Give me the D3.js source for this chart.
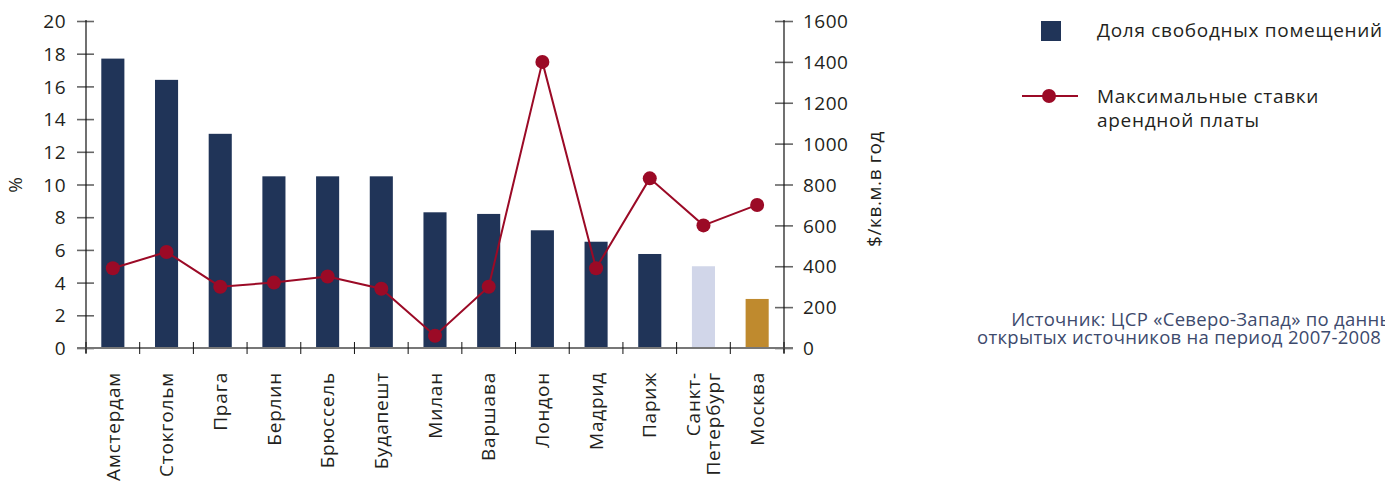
<!DOCTYPE html>
<html>
<head>
<meta charset="utf-8">
<script src="https://cdn.jsdelivr.net/npm/d3@7"></script>
<style>
  html, body { margin: 0; padding: 0; background: #fff; }
  svg { display: block; }
  text { font-family: "Open Sans", "Noto Sans", sans-serif; fill: #231f20; }
</style>
</head>
<body>
<svg id="chart" width="1385" height="484"></svg>
<script>
// Office market: vacancy share (bars, left axis) and peak rents (line, right axis)
const cities = ["Амстердам", "Стокгольм", "Прага", "Берлин", "Брюссель", "Будапешт",
  "Милан", "Варшава", "Лондон", "Мадрид", "Париж", "Санкт-Петербург", "Москва"];
const cityLines = [["Амстердам"], ["Стокгольм"], ["Прага"], ["Берлин"], ["Брюссель"], ["Будапешт"],
  ["Милан"], ["Варшава"], ["Лондон"], ["Мадрид"], ["Париж"], ["Санкт-", "Петербург"], ["Москва"]];
const vacancy = [17.7, 16.4, 13.1, 10.5, 10.5, 10.5, 8.3, 8.2, 7.2, 6.5, 5.75, 5.0, 3.0];
const rent = [390, 470, 300, 320, 350, 290, 60, 300, 1400, 390, 830, 600, 700];
const leftTicks = [0, 2, 4, 6, 8, 10, 12, 14, 16, 18, 20];
const rightTicks = [0, 200, 400, 600, 800, 1000, 1200, 1400, 1600];
const barColors = ["#203458", "#203458", "#203458", "#203458", "#203458", "#203458",
  "#203458", "#203458", "#203458", "#203458", "#203458", "#d1d6e9", "#bf8a2e"];
const lineColor = "#9b0a26";

const svg = d3.select("#chart");
const x0 = 86, x1 = 784, yTop = 21, yBot = 348;

const x = d3.scaleBand().domain(cities).range([x0, x1]).paddingInner(0).paddingOuter(0);
const yL = d3.scaleLinear().domain([0, 20]).range([yBot, yTop]);
const yR = d3.scaleLinear().domain([0, 1600]).range([yBot, yTop]);
const barW = x.bandwidth() * 0.43;

// bars
svg.append("g").selectAll("rect").data(cities).join("rect")
  .attr("x", (d) => x(d) + x.bandwidth() / 2 - barW / 2)
  .attr("y", (d, i) => yL(vacancy[i]))
  .attr("width", barW)
  .attr("height", (d, i) => yBot - yL(vacancy[i]))
  .attr("fill", (d, i) => barColors[i]);

// left axis
const axL = svg.append("g").attr("transform", `translate(${x0},0)`)
  .call(d3.axisLeft(yL).tickValues(leftTicks).tickSize(0).tickPadding(20).tickFormat(d3.format("d")));
axL.select(".domain").remove();
axL.selectAll("text").style("font-size", "19px").style("letter-spacing", "0.5px")
  .attr("dy", "0.35em").attr("fill", "#231f20");
axL.selectAll(".tick").append("line").attr("x1", -9).attr("x2", 8).attr("stroke", "#666").attr("stroke-width", 1.6);
svg.append("line").attr("x1", x0).attr("x2", x0).attr("y1", yTop - 1).attr("y2", yBot + 5)
  .attr("stroke", "#111").attr("stroke-width", 1.2);

// right axis
const axR = svg.append("g").attr("transform", `translate(${x1},0)`)
  .call(d3.axisRight(yR).tickValues(rightTicks).tickSize(0).tickPadding(19).tickFormat(d3.format("d")));
axR.select(".domain").remove();
axR.selectAll("text").style("font-size", "19px").style("letter-spacing", "0.5px")
  .attr("dy", "0.35em").attr("fill", "#231f20");
axR.selectAll(".tick").append("line").attr("x1", -9).attr("x2", 9).attr("stroke", "#666").attr("stroke-width", 1.6);
svg.append("line").attr("x1", x1).attr("x2", x1).attr("y1", yTop - 1).attr("y2", yBot + 5)
  .attr("stroke", "#111").attr("stroke-width", 1.2);

// category axis
svg.append("line").attr("x1", x0 - 9).attr("x2", x1 + 9).attr("y1", yBot).attr("y2", yBot)
  .attr("stroke", "#777").attr("stroke-width", 2);
const bounds = cities.map((c) => x(c)).concat([x1]);
svg.append("g").selectAll("line").data(bounds).join("line")
  .attr("x1", (d) => d).attr("x2", (d) => d)
  .attr("y1", yBot - 6).attr("y2", yBot + 6)
  .attr("stroke", "#111").attr("stroke-width", 1);

// category labels (rotated)
const lab = svg.append("g").selectAll("text").data(cities).join("text")
  .attr("transform", (d) => `translate(${x(d) + x.bandwidth() / 2},372) rotate(-90)`)
  .attr("text-anchor", "end")
  .style("font-size", "19px")
  .style("letter-spacing", "0.8px");
lab.each(function (d, i) {
  const lines = cityLines[i];
  const t = d3.select(this);
  const n = lines.length;
  lines.forEach((ln, k) => {
    t.append("tspan").attr("x", 0)
      .attr("y", 0)
      .attr("dy", `${0.35 + (k - (n - 1) / 2) * 1.05}em`)
      .text(ln);
  });
});

// rent line
const line = d3.line().x((d, i) => x(cities[i]) + x.bandwidth() / 2).y((d) => yR(d));
svg.append("path").datum(rent).attr("d", line)
  .attr("fill", "none").attr("stroke", lineColor).attr("stroke-width", 2);
svg.append("g").selectAll("circle").data(rent).join("circle")
  .attr("cx", (d, i) => x(cities[i]) + x.bandwidth() / 2)
  .attr("cy", (d) => yR(d))
  .attr("r", 7).attr("fill", lineColor);

// axis titles
svg.append("text").attr("transform", "translate(22,185) rotate(-90)")
  .attr("text-anchor", "middle").style("font-size", "19px").text("%");
svg.append("text").attr("transform", "translate(881,189) rotate(-90)")
  .attr("text-anchor", "middle").style("font-size", "19px").style("letter-spacing", "0.6px")
  .text("$/кв.м.в год");

// legend
svg.append("rect").attr("x", 1041).attr("y", 21).attr("width", 20).attr("height", 20).attr("fill", "#203458");
svg.append("text").attr("x", 1097).attr("y", 37).style("font-size", "19px").style("letter-spacing", "0.7px")
  .text("Доля свободных помещений");
svg.append("line").attr("x1", 1022).attr("x2", 1078).attr("y1", 96).attr("y2", 96)
  .attr("stroke", lineColor).attr("stroke-width", 2);
svg.append("circle").attr("cx", 1049).attr("cy", 96).attr("r", 7).attr("fill", lineColor);
const lt = svg.append("text").style("font-size", "19px").style("letter-spacing", "0.7px");
lt.append("tspan").attr("x", 1097).attr("y", 103).text("Максимальные ставки");
lt.append("tspan").attr("x", 1097).attr("y", 127).text("арендной платы");

// source note
const src = svg.append("text").attr("text-anchor", "end").style("font-size", "18.5px")
  .style("letter-spacing", "0.3px");
src.append("tspan").attr("x", 1408).attr("y", 326).attr("fill", "#3d4a6d").text("Источник: ЦСР «Северо-Запад» по данным");
src.append("tspan").attr("x", 1408).attr("y", 344).attr("fill", "#3d4a6d").text("открытых источников на период 2007-2008 гг.");
</script>
</body>
</html>
